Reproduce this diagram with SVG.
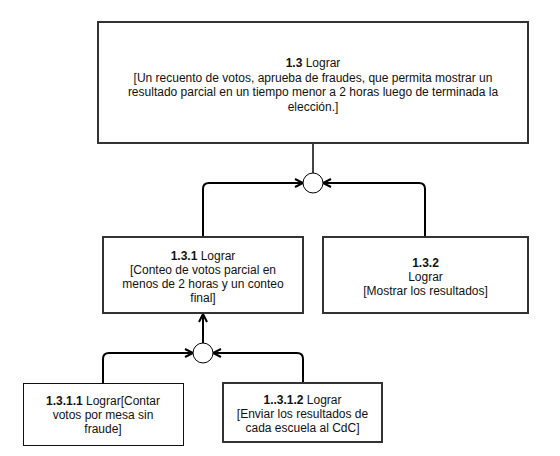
<svg xmlns="http://www.w3.org/2000/svg" width="560" height="456" viewBox="0 0 560 456">
<style>
.box{fill:#fff;stroke:#333;stroke-width:2}
.thin{stroke:#111;stroke-width:1}
.t{font-family:"Liberation Sans",Arial,sans-serif;font-size:12px;fill:#111;text-anchor:middle}
.b{font-weight:bold}
.c{fill:none;stroke:#000;stroke-width:2}
.circ{fill:#fff;stroke:#000;stroke-width:1}
</style>
<defs>
<marker id="arr" markerUnits="userSpaceOnUse" markerWidth="12" markerHeight="12" refX="9" refY="5" orient="auto">
<path d="M1,1 L9,5 L1,9" fill="none" stroke="#000" stroke-width="2"/>
</marker>
</defs>
<rect width="560" height="456" fill="#fff"/>
<g id="connectors">
<path d="M313,143 L313,173" fill="none" stroke="#444" stroke-width="2"/>
<path class="c" d="M203,237 L203,189 Q203,183 209,183 L303,183" marker-end="url(#arr)"/>
<path class="c" d="M425,237 L425,189 Q425,183 419,183 L323,183" marker-end="url(#arr)"/>
<path class="c" d="M103,383 L103,359 Q103,353 109,353 L193,353" marker-end="url(#arr)"/>
<path class="c" d="M303,383 L303,359 Q303,353 297,353 L213,353" marker-end="url(#arr)"/>
<path class="c" d="M203,343 L203,314" marker-end="url(#arr)"/>
</g>
<g id="and1"><circle class="circ" cx="313" cy="183" r="10"/></g>
<g id="and2"><circle class="circ" cx="203" cy="353" r="10"/></g>
<g id="n13">
<rect class="box" x="98" y="22" width="430" height="121"/>
<text class="t" x="313" y="67"><tspan class="b">1.3</tspan> Lograr</text>
<text class="t" x="313" y="81.5">[Un recuento de votos, aprueba de fraudes, que permita mostrar un</text>
<text class="t" x="313" y="96">resultado parcial en un tiempo menor a 2 horas luego de terminada la</text>
<text class="t" x="313" y="110.5">elección.]</text>
</g>
<g id="n131">
<rect class="box" x="103" y="237" width="200" height="76"/>
<text class="t" x="203" y="260"><tspan class="b">1.3.1</tspan> Lograr</text>
<text class="t" x="203" y="274">[Conteo de votos parcial en</text>
<text class="t" x="203" y="288">menos de 2 horas y un conteo</text>
<text class="t" x="203" y="302">final]</text>
</g>
<g id="n132">
<rect class="box" x="323" y="237" width="205" height="76"/>
<text class="t b" x="425.5" y="267">1.3.2</text>
<text class="t" x="425.5" y="281">Lograr</text>
<text class="t" x="425.5" y="295">[Mostrar los resultados]</text>
</g>
<g id="n1311">
<rect class="box thin" x="23.5" y="383.5" width="160" height="62"/>
<text class="t" x="103" y="405"><tspan class="b">1.3.1.1</tspan> Lograr[Contar</text>
<text class="t" x="103" y="419">votos por mesa sin</text>
<text class="t" x="103" y="433">fraude]</text>
</g>
<g id="n1312">
<rect class="box" x="223" y="383" width="159" height="59"/>
<text class="t" x="302.5" y="404"><tspan class="b">1..3.1.2</tspan> Lograr</text>
<text class="t" x="302.5" y="418">[Enviar los resultados de</text>
<text class="t" x="302.5" y="432">cada escuela al CdC]</text>
</g>
</svg>
